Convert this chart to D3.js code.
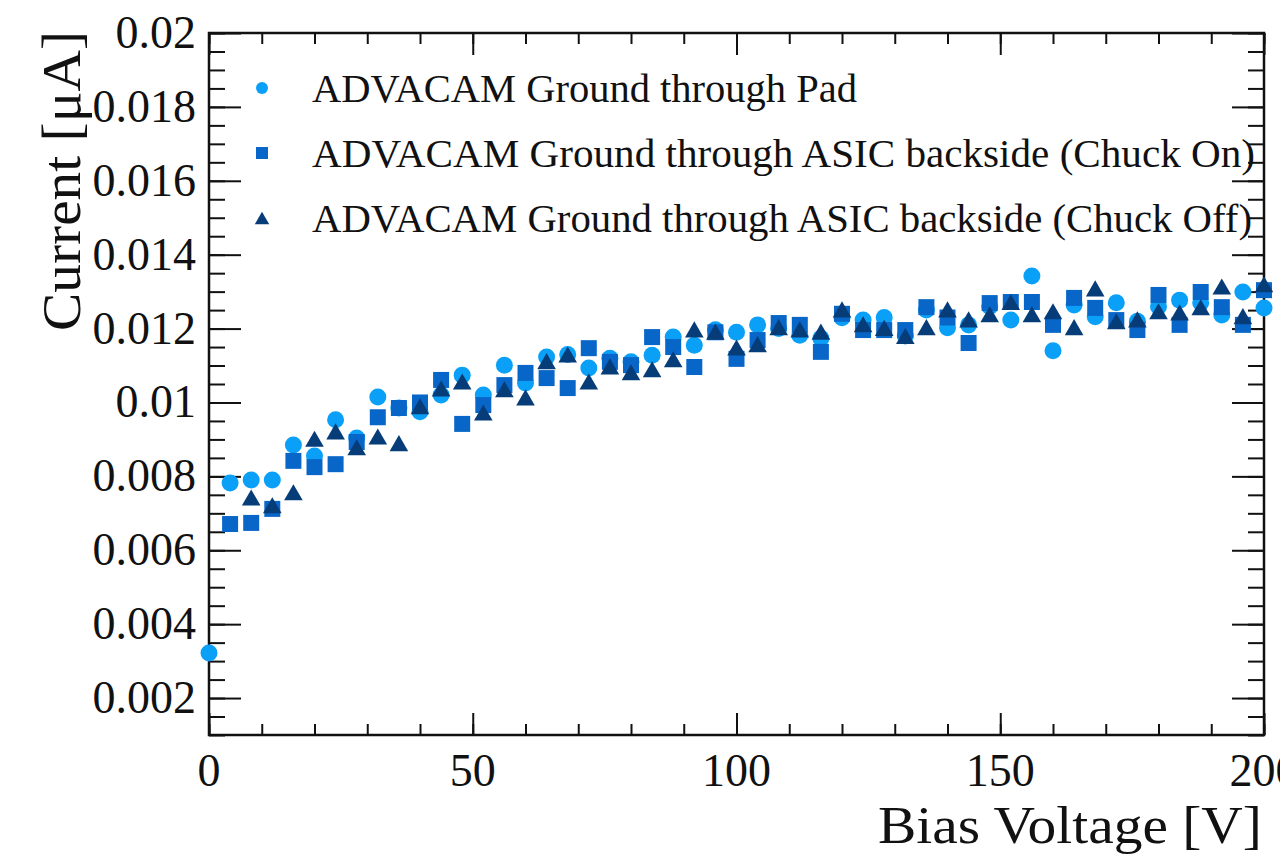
<!DOCTYPE html>
<html>
<head>
<meta charset="utf-8">
<script src="https://cdn.jsdelivr.net/npm/d3@7/dist/d3.min.js"></script>
<style>
  html, body { margin: 0; padding: 0; background: #ffffff; }
  svg { display: block; }
  text { font-family: "Liberation Serif", "Times New Roman", "DejaVu Serif", serif; fill: #111; }
</style>
</head>
<body>
<svg id="chart" width="1280" height="856"></svg>
<script>
// ---- data ----
const voltages = [0,4,8,12,16,20,24,28,32,36,40,44,48,52,56,60,64,68,72,76,80,84,88,92,96,100,
  104,108,112,116,120,124,128,132,136,140,144,148,152,156,160,164,168,172,176,180,184,188,192,196,200];

const padCurrent = [0.00322,0.00782,0.0079,0.0079,0.00885,0.00855,0.00953,0.00904,0.01015,0.00985,
  0.00975,0.0102,0.01074,0.0102,0.01101,0.01053,0.01123,0.0113,0.01093,0.0112,0.0111,0.01128,0.01177,
  0.01155,0.01197,0.0119,0.0121,0.0120,0.01182,0.01174,0.01229,0.01223,0.0123,0.0118,0.0125,0.01202,
  0.0121,0.0126,0.01223,0.01342,0.0114,0.01264,0.01232,0.0127,0.0122,0.0126,0.01277,0.0127,0.01237,
  0.01299,0.01256];

const chuckOnCurrent = [null,0.00671,0.00674,0.00712,0.00842,0.00825,0.00833,0.00893,0.0096,0.00985,
  0.0100,0.01061,0.00942,0.00993,0.01047,0.0108,0.01066,0.01039,0.01147,0.0111,0.01101,0.01177,0.0115,
  0.01096,0.0119,0.01118,0.01169,0.01215,0.0121,0.01137,0.0124,0.01196,0.01196,0.01196,0.01258,0.0123,
  0.01161,0.01269,0.01272,0.01272,0.0121,0.01283,0.01256,0.01223,0.01196,0.01291,0.0121,0.01299,0.01258,
  0.0121,0.01304];

const chuckOffCurrent = [null,null,0.00741,0.0072,0.00755,0.0090,0.0092,0.00877,0.00906,0.00888,
  0.00988,0.01036,0.01055,0.00971,0.01034,0.01012,0.0111,0.01128,0.01055,0.01096,0.0108,0.01088,0.01115,
  0.01196,0.0119,0.01147,0.01156,0.01202,0.01196,0.0119,0.0125,0.0121,0.012,0.01178,0.01202,0.0125,
  0.01223,0.01237,0.0127,0.01237,0.01245,0.01202,0.01307,0.01218,0.01223,0.01245,0.01242,0.01256,0.01312,
  0.01232,0.01318];

const seriesNames = [
  "ADVACAM Ground through Pad",
  "ADVACAM Ground through ASIC backside (Chuck On)",
  "ADVACAM Ground through ASIC backside (Chuck Off)"
];
const seriesColors = ["#0aa0f8", "#0866c8", "#063d78"];
const seriesShapes = ["circle", "square", "triangle"];

const xTickValues = [0, 50, 100, 150, 200];
const xTickLabels = ["0", "50", "100", "150", "200"];
const yTickValues = [0.002,0.004,0.006,0.008,0.01,0.012,0.014,0.016,0.018,0.02];
const yTickLabels = ["0.002","0.004","0.006","0.008","0.01","0.012","0.014","0.016","0.018","0.02"];

const xTitle = "Bias Voltage [V]";
const yTitle = "Current [μA]";

// ---- layout ----
const L = 209, R = 1264, T = 33, B = 735;
const svg = d3.select("#chart");
svg.append("rect").attr("width", 1280).attr("height", 856).attr("fill", "#fff");

const x = d3.scaleLinear().domain([0, 200]).range([L, R]);
const y = d3.scaleLinear().domain([0.001, 0.02]).range([B, T]);

const axisColor = "#111";
const xMinor = d3.range(0, 201, 10);
const yMinor = d3.range(2, 41).map(d => d * 0.0005);

function tickGroup(axisGen, transform) {
  const g = svg.append("g").attr("transform", transform).call(axisGen);
  g.select(".domain").remove();
  g.selectAll(".tick line").attr("stroke", axisColor).attr("stroke-width", 2);
  return g;
}

tickGroup(d3.axisBottom(x).tickValues(xMinor).tickSize(-11).tickFormat(""), `translate(0,${B})`);
tickGroup(d3.axisBottom(x).tickValues(xTickValues).tickSize(-22).tickFormat(""), `translate(0,${B})`);
tickGroup(d3.axisTop(x).tickValues(xMinor).tickSize(-11).tickFormat(""), `translate(0,${T})`);
tickGroup(d3.axisTop(x).tickValues(xTickValues).tickSize(-22).tickFormat(""), `translate(0,${T})`);
tickGroup(d3.axisLeft(y).tickValues(yMinor).tickSize(-16).tickFormat(""), `translate(${L},0)`);
tickGroup(d3.axisLeft(y).tickValues(yTickValues).tickSize(-32).tickFormat(""), `translate(${L},0)`);
tickGroup(d3.axisRight(y).tickValues(yMinor).tickSize(-16).tickFormat(""), `translate(${R},0)`);
tickGroup(d3.axisRight(y).tickValues(yTickValues).tickSize(-32).tickFormat(""), `translate(${R},0)`);

svg.append("rect").attr("x", L).attr("y", T).attr("width", R - L).attr("height", B - T)
  .attr("fill", "none").attr("stroke", axisColor).attr("stroke-width", 2.5);

svg.append("g").selectAll("text").data(xTickValues).join("text")
  .attr("x", d => x(d)).attr("y", 786)
  .attr("text-anchor", "middle").attr("font-size", 46)
  .text((d, i) => xTickLabels[i]);

svg.append("g").selectAll("text").data(yTickValues).join("text")
  .attr("x", 196).attr("y", d => y(d) + 15)
  .attr("text-anchor", "end").attr("font-size", 46)
  .text((d, i) => yTickLabels[i]);

svg.append("text").attr("x", 1262).attr("y", 843).attr("text-anchor", "end")
  .attr("font-size", 52).attr("textLength", 384).attr("lengthAdjust", "spacingAndGlyphs")
  .text(xTitle);
svg.append("text").attr("transform", "translate(80,31) rotate(-90)")
  .attr("text-anchor", "end").attr("font-size", 54)
  .attr("textLength", 300).attr("lengthAdjust", "spacingAndGlyphs")
  .text(yTitle);

const symbolFor = {
  circle: d3.symbol().type(d3.symbolCircle).size(Math.PI * 8.5 * 8.5),
  square: d3.symbol().type(d3.symbolSquare).size(16 * 16),
  triangle: d3.symbol().type(d3.symbolTriangle).size(150)
};

const allSeries = [padCurrent, chuckOnCurrent, chuckOffCurrent];
allSeries.forEach((vals, si) => {
  const pts = voltages.map((v, i) => ({ v, c: vals[i] })).filter(d => d.c !== null);
  const shape = seriesShapes[si];
  const dy = shape === "triangle" ? 2 : 0;
  svg.append("g").selectAll("path").data(pts).join("path")
    .attr("d", symbolFor[shape]())
    .attr("transform", d => `translate(${x(d.v)},${y(d.c) + dy})`)
    .attr("fill", seriesColors[si]);
});

const legendY = [88, 153, 218];
const legendLens = [545, 943, 940];
seriesNames.forEach((name, i) => {
  const shape = seriesShapes[i];
  const size = shape === "circle" ? Math.PI * 6 * 6 : shape === "square" ? 12 * 12 : 90;
  svg.append("path")
    .attr("d", d3.symbol().type(shape === "circle" ? d3.symbolCircle : shape === "square" ? d3.symbolSquare : d3.symbolTriangle).size(size)())
    .attr("transform", `translate(262,${legendY[i] + (shape === "triangle" ? 2 : 0)})`)
    .attr("fill", seriesColors[i]);
  svg.append("text").attr("x", 312).attr("y", legendY[i] + 14)
    .attr("font-size", 40).attr("textLength", legendLens[i]).attr("lengthAdjust", "spacingAndGlyphs")
    .text(name);
});
</script>
</body>
</html>
